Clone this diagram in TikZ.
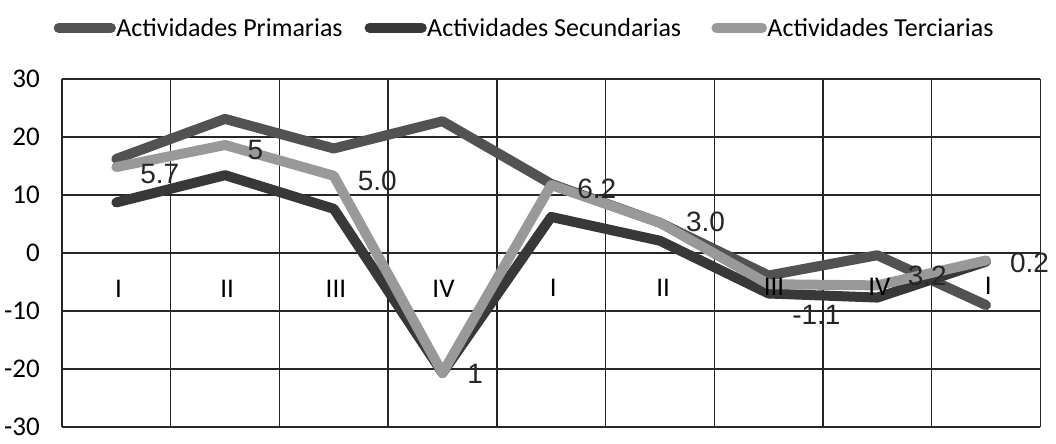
\documentclass[tikz,border=0pt]{standalone}
\usepackage{fontspec}
\setmainfont{Carlito}
\newfontfamily\etiq{Liberation Sans}
\usetikzlibrary{positioning}

\tikzset{
  rejilla/.style={draw=black!85, line width=0.7pt},
  serie/.style={line width=5pt, line cap=round, line join=round},
  primarias/.style={serie, draw=black!68},
  secundarias/.style={serie, draw=black!78},
  terciarias/.style={serie, draw=black!40},
  eje/.style={font=\fontsize{13.5}{15}\selectfont, inner sep=0pt},
  dato/.style={font=\etiq\fontsize{14}{16}\selectfont, inner sep=0pt, text=black!85},
  leyenda/.style={font=\fontsize{13}{15}\selectfont, inner sep=0pt, anchor=west}
}

\begin{document}
\begin{tikzpicture}[x=54.35pt, y=2.9pt]
\useasboundingbox (-0.57,-32.9) rectangle (9.144,43.6);

% rejilla y eje
\draw[rejilla] (0,-30) grid[xstep=1, ystep=10] (9,30);
\node[eje, anchor=east] (y30) at (-0.2,30) {30};
\node[eje, anchor=east] (y20) at (-0.2,20) {20};
\node[eje, anchor=east] (y10) at (-0.2,10) {10};
\node[eje, anchor=east] (y0) at (-0.2,0) {0};
\node[eje, anchor=east] (ym10) at (-0.2,-10) {-10};
\node[eje, anchor=east] (ym20) at (-0.2,-20) {-20};
\node[eje, anchor=east] (ym30) at (-0.2,-30) {-30};

% series
\draw[primarias] plot coordinates {(0.5,16.2) (1.5,23.1) (2.5,18.0) (3.5,22.7) (4.5,11.9) (5.5,5.2) (6.5,-3.9) (7.5,-0.4) (8.5,-9.0)};
\draw[secundarias] plot coordinates {(0.5,8.7) (1.5,13.4) (2.5,7.6) (3.5,-20.7) (4.5,6.2) (5.5,2.1) (6.5,-7.0) (7.5,-7.7) (8.5,-1.5)};
\draw[terciarias] plot coordinates {(0.5,14.8) (1.5,18.6) (2.5,13.3) (3.5,-20.7) (4.5,11.7) (5.5,5.2) (6.5,-5.4) (7.5,-5.6) (8.5,-1.3)};

% trimestres
\node[eje] (c1) at (0.52,-6.2) {I};
\node[eje] (c2) at (1.52,-6.2) {II};
\node[eje] (c3) at (2.52,-6.2) {III};
\node[eje] (c4) at (3.51,-6.2) {IV};
\node[eje] (c5) at (4.52,-6.0) {I};
\node[eje] (c6) at (5.53,-6.0) {II};
\node[eje] (c7) at (6.55,-5.8) {III};
\node[eje] (c8) at (7.52,-5.8) {IV};
\node[eje] (c9) at (8.52,-5.6) {I};

% etiquetas de datos
\node[dato] (d1) at (0.90,13.6) {5.7};
\node[dato] (d2) at (1.78,17.8) {5};
\node[dato] (d3) at (2.90,12.4) {5.0};
\node[dato] (d4) at (3.80,-20.8) {1};
\node[dato] (d5) at (4.92,11.0) {6.2};
\node[dato] (d6) at (5.92,5.3) {3.0};
\node[dato] (d7) at (6.94,-10.7) {-1.1};
\node[dato] (d8) at (7.96,-4.0) {3.2};
\node[dato] (d9) at (8.90,-1.8) {0.2};

% leyenda
\coordinate (lp) at (-0.03,38.8);
\draw[primarias] (lp) -- ++(0.48,0) coordinate (lp2);
\node[leyenda, right=2.5pt of lp2] (tp) {Actividades Primarias};
\coordinate (ls) at (2.83,38.8);
\draw[secundarias] (ls) -- ++(0.48,0) coordinate (ls2);
\node[leyenda, right=2.5pt of ls2] (ts) {Actividades Secundarias};
\coordinate (lt) at (6.02,38.8);
\draw[terciarias] (lt) -- ++(0.42,0) coordinate (lt2);
\node[leyenda, right=2.5pt of lt2] (tt) {Actividades Terciarias};
\end{tikzpicture}
\end{document}
